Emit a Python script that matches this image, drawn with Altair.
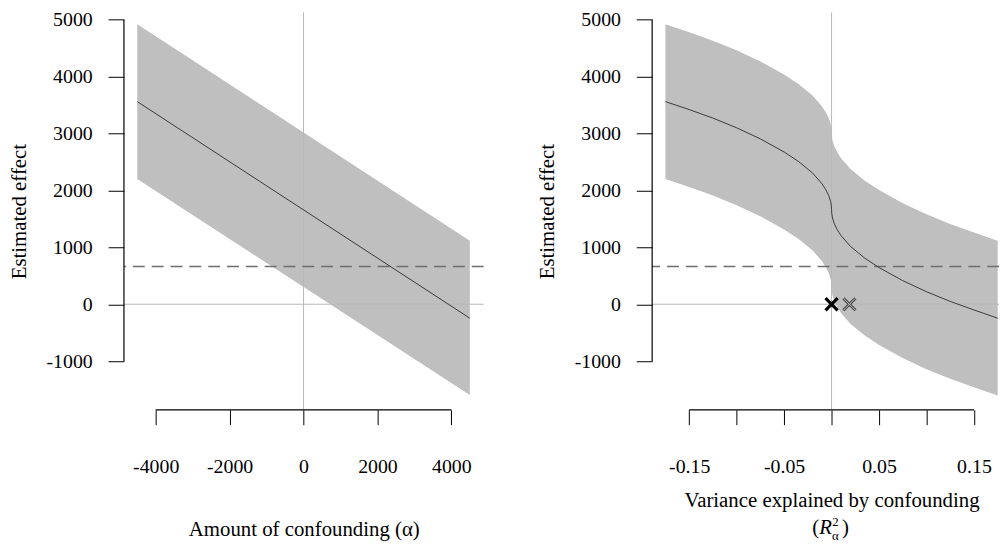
import altair as alt
import pandas as pd

# ---------------- data ----------------
# left panel: amount of confounding (alpha)
alpha = [-4500, 4500]
alpha_est = [3560, -245]
alpha_lower = [2200, -1595]
alpha_upper = [4920, 1115]

# right panel: variance explained by confounding (signed R^2)
r2 = [-0.175, -0.15, -0.125, -0.1, -0.075, -0.05, -0.035, -0.02, -0.01, -0.006,
      -0.003, -0.001, -0.0002, 0.0, 0.0002, 0.001, 0.003, 0.006, 0.01, 0.02,
      0.035, 0.05, 0.075, 0.1, 0.125, 0.15, 0.175]
r2_est = [3560, 3420, 3270, 3100, 2905, 2675, 2510, 2305, 2115, 2010, 1910, 1805,
          1725, 1660, 1595, 1515, 1410, 1310, 1205, 1015, 810, 645, 415, 220, 50,
          -100, -245]
r2_lower = [2200, 2060, 1910, 1740, 1545, 1315, 1150, 945, 755, 650, 550, 445,
            365, 300, 235, 155, 50, -50, -155, -345, -550, -715, -945, -1140,
            -1310, -1460, -1605]
r2_upper = [4920, 4780, 4630, 4460, 4265, 4035, 3870, 3665, 3475, 3370, 3270,
            3165, 3085, 3020, 2955, 2875, 2770, 2670, 2565, 2375, 2170, 2005,
            1775, 1580, 1410, 1260, 1115]

threshold = 662
marker_r2 = [0.0, 0.0188]
marker_y = [0, 0]

y_ticks = [-1000, 0, 1000, 2000, 3000, 4000, 5000]
alpha_ticks = [-4000, -2000, 0, 2000, 4000]
r2_ticks = [-0.15, -0.1, -0.05, 0, 0.05, 0.1, 0.15]
r2_labelled = [-0.15, -0.05, 0.05, 0.15]

y_domain = [-1854, 5127]
alpha_domain = [-4860, 4875]
r2_domain = [-0.189, 0.1764]

# ---------------- styling ----------------
FONT = "Liberation Serif"
FS = 20
BAND = "#bfbfbf"
REF = "#b8b8b8"
H = 401
W_LEFT = 363
W_RIGHT = 350

ydf_axis = pd.DataFrame({"a": [y_ticks[0]], "b": [y_ticks[-1]]})
zero_df = pd.DataFrame({"v": [0]})
thr_df = pd.DataFrame({"v": [threshold]})

y_scale = alt.Scale(domain=y_domain, nice=False, zero=False)


def y_axis():
    return alt.Axis(values=y_ticks, title="Estimated effect", domain=False, grid=False,
                    tickSize=16, tickColor="black", tickWidth=1, labelPadding=16,
                    labelAngle=0, labelAlign="right", labelBaseline="middle",
                    labelFont=FONT, labelFontSize=FS, labelColor="black",
                    titleFont=FONT, titleFontSize=FS + 1, titleFontWeight="normal",
                    titleColor="black", titlePadding=17,
                    labelExpr="'' + datum.value")


def panel(df, xfield, xscale, xaxis, xticks, width, extra=None):
    base = alt.Chart(df)
    band = base.mark_area(color=BAND, opacity=1).encode(
        x=alt.X(f"{xfield}:Q", scale=xscale, axis=xaxis),
        y=alt.Y("lower:Q", scale=y_scale, axis=y_axis()),
        y2="upper:Q",
    )
    vline = alt.Chart(zero_df).mark_rule(color=REF, strokeWidth=1).encode(x="v:Q")
    hline = alt.Chart(zero_df).mark_rule(color=REF, strokeWidth=1).encode(y="v:Q")
    dash = alt.Chart(thr_df).mark_rule(color="#6e6e6e", strokeWidth=1.4,
                                       strokeDash=[12, 7]).encode(y="v:Q")
    line = base.mark_line(color="#3a3a3a", strokeWidth=1).encode(
        x=f"{xfield}:Q", y="est:Q")
    yline = alt.Chart(ydf_axis).mark_rule(color="black", strokeWidth=1.2).encode(
        x=alt.value(0), y="a:Q", y2="b:Q")
    xdf = pd.DataFrame({"a": [xticks[0]], "b": [xticks[-1]]})
    xline = alt.Chart(xdf).mark_rule(color="black", strokeWidth=1.2).encode(
        y=alt.value(H), x="a:Q", x2="b:Q")
    layers = [band, vline, hline, dash, line, yline, xline]
    if extra:
        layers += extra
    return alt.layer(*layers).properties(width=width, height=H)


# left panel
left_df = pd.DataFrame({"x": alpha, "est": alpha_est, "lower": alpha_lower,
                        "upper": alpha_upper})
left_xaxis = alt.Axis(values=alpha_ticks, title="Amount of confounding (α)",
                      domain=False, grid=False, tickSize=15, tickColor="black",
                      tickWidth=1, labelPadding=32, labelFont=FONT, labelFontSize=FS,
                      labelColor="black", titleFont=FONT, titleFontSize=FS + 1,
                      titleFontWeight="normal", titleColor="black", titlePadding=43,
                      labelExpr="'' + datum.value", labelFlush=False)
left = panel(left_df, "x", alt.Scale(domain=alpha_domain, nice=False, zero=False),
             left_xaxis, alpha_ticks, W_LEFT)

# right panel
right_df = pd.DataFrame({"x": r2, "est": r2_est, "lower": r2_lower, "upper": r2_upper})
lab_list = ",".join(str(v) for v in r2_labelled)
right_xaxis = alt.Axis(values=r2_ticks, title="Variance explained by confounding",
                       domain=False, grid=False, tickSize=15, tickColor="black",
                       tickWidth=1, labelPadding=32, labelFont=FONT, labelFontSize=FS,
                       labelColor="black", titleFont=FONT, titleFontSize=FS + 1,
                       titleFontWeight="normal", titleColor="black", titlePadding=14,
                       titleX=181, titleAnchor="start", titleAlign="center",
                       labelExpr=f"indexof([{lab_list}], datum.value) >= 0 ? '' + datum.value : ''",
                       labelFlush=False)
r2_scale = alt.Scale(domain=r2_domain, nice=False, zero=False)

mk_df = pd.DataFrame({"x": marker_r2, "y": marker_y,
                      "k": ["observed", "benchmark"]})
XSHAPE = "M-1,-1L1,1M-1,1L1,-1"
mk1 = alt.Chart(mk_df.iloc[[0]]).mark_point(shape=XSHAPE, size=150, strokeWidth=3.2,
                                            color="black", opacity=1).encode(
    x="x:Q", y="y:Q")
mk2a = alt.Chart(mk_df.iloc[[1]]).mark_point(shape=XSHAPE, size=150, strokeWidth=3,
                                             color="#444444", opacity=1).encode(
    x="x:Q", y="y:Q")
mk2b = alt.Chart(mk_df.iloc[[1]]).mark_point(shape=XSHAPE, size=150, strokeWidth=1,
                                             color="#c8c8c8", opacity=1).encode(
    x="x:Q", y="y:Q")

# second line of the x title: (R^2_alpha)
ty = 520
t_open = alt.Chart(zero_df).mark_text(text="(", font=FONT, fontSize=FS + 1,
                                      baseline="middle", align="center").encode(
    x=alt.value(165), y=alt.value(ty))
t_r = alt.Chart(zero_df).mark_text(text="R", font=FONT, fontSize=FS + 1,
                                   fontStyle="italic", baseline="middle",
                                   align="center").encode(
    x=alt.value(175), y=alt.value(ty))
t_sup = alt.Chart(zero_df).mark_text(text="2", font=FONT, fontSize=13,
                                     baseline="middle", align="center").encode(
    x=alt.value(185), y=alt.value(ty - 6))
t_sub = alt.Chart(zero_df).mark_text(text="α", font=FONT, fontSize=13,
                                     baseline="middle", align="center").encode(
    x=alt.value(185), y=alt.value(ty + 8))
t_close = alt.Chart(zero_df).mark_text(text=")", font=FONT, fontSize=FS + 1,
                                       baseline="middle", align="center").encode(
    x=alt.value(195), y=alt.value(ty))

right = panel(right_df, "x", r2_scale, right_xaxis, r2_ticks, W_RIGHT,
              extra=[mk1, mk2a, mk2b, t_open, t_r, t_sup, t_sub, t_close])

chart = alt.hconcat(left, right, spacing=52).properties(
    padding={"left": 0, "top": -1, "right": 0, "bottom": 0}
).configure_view(stroke=None).configure_concat(spacing=52)

chart.save("out.html", embed_options={"renderer": "svg", "actions": False})
